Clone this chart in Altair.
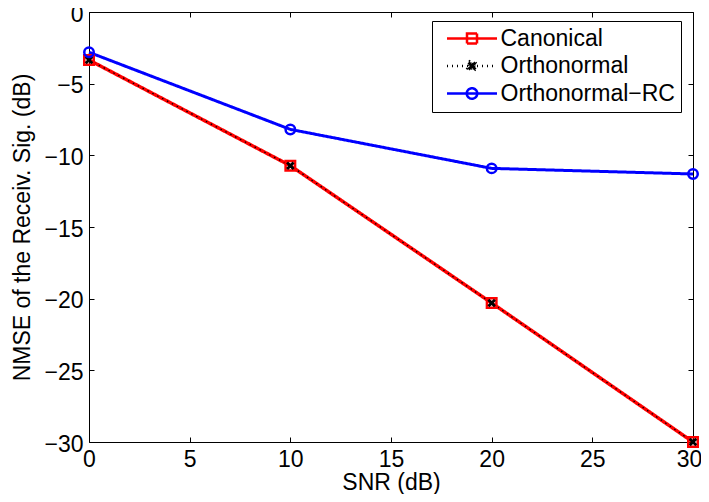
import altair as alt
import pandas as pd

# ---- data ----
snr = [0, 10, 20, 30]
canonical = [-3.35, -10.72, -20.3, -30.0]
orthonormal = [-3.35, -10.72, -20.3, -30.0]
orthonormal_rc = [-2.81, -8.19, -10.91, -11.3]
series_names = ["Canonical", "Orthonormal", "Orthonormal\u2212RC"]
x_ticks = [0, 5, 10, 15, 20, 25, 30]
y_ticks = [0, -5, -10, -15, -20, -25, -30]

rows = []
for name, vals in zip(series_names, [canonical, orthonormal, orthonormal_rc]):
    for s, v in zip(snr, vals):
        rows.append({"snr": s, "nmse": v, "series": name})
df = pd.DataFrame(rows)

# ---- styles ----
FONT = "Liberation Sans"
FS = 23
colors = ["#ff0000", "#000000", "#0000ff"]
line_widths = [3.5, 1.3, 3.0]
dashes = [[1, 0], [1.5, 4], [1, 0]]
X_PATH = ("M0,-0.42L0.48,-0.9L0.9,-0.48L0.42,0L0.9,0.48L0.48,0.9L0,0.42"
          "L-0.48,0.9L-0.9,0.48L-0.42,0L-0.9,-0.48L-0.48,-0.9Z")
point_shapes = ["square", X_PATH, "circle"]
point_filled = [False, True, False]
legend_shapes = [
    "M-5,0H5M-1,-1H1V1H-1Z",
    "M-5,0H5M" + X_PATH[1:],
    "M-5,0H5M-1.05,0A1.05,1.05 0 1,0 1.05,0A1.05,1.05 0 1,0 -1.05,0Z",
]
legend_fills = ["transparent", "#000000", "transparent"]
legend_dashes = [[1, 0], [1, 4], [1, 0]]

xs = alt.Scale(domain=[0, 30], nice=False, zero=False)
ys = alt.Scale(domain=[-30, 0], nice=False, zero=False)

common_axis = dict(grid=False, domain=False, tickSize=5, offset=-5,
                   labelFlush=False, labelOverlap=False)
ax_bottom = alt.Axis(orient="bottom", values=x_ticks, labelPadding=6,
                     labelOffset={"condition": {"test": "datum.value == 30", "value": -4}, "value": 0},
                     title="SNR (dB)", titlePadding=0, format="d", **common_axis)
ax_top = alt.Axis(orient="top", values=x_ticks, labels=False, title=None, **common_axis)
ax_left = alt.Axis(orient="left", values=y_ticks, labelPadding=6, labelOffset=2,
                   title="NMSE of the Receiv. Sig. (dB)", titlePadding=9,
                   format="d", **common_axis)
ax_right = alt.Axis(orient="right", values=y_ticks, labels=False, title=None, **common_axis)

base = alt.Chart(df)
layers = []
for i, name in enumerate(series_names):
    if i == 0:
        xa, ya = ax_bottom, ax_left
    elif i == 1:
        xa, ya = ax_top, ax_right
    else:
        xa, ya = None, None
    layers.append(
        base.transform_filter(alt.datum.series == name)
        .mark_line(color=colors[i], strokeWidth=line_widths[i],
                   strokeDash=dashes[i], opacity=1)
        .encode(x=alt.X("snr:Q", scale=xs, axis=xa),
                y=alt.Y("nmse:Q", scale=ys, axis=ya))
    )
for i, name in enumerate(series_names):
    layers.append(
        base.transform_filter(alt.datum.series == name)
        .mark_point(shape=point_shapes[i], filled=point_filled[i],
                    color=colors[i], size=90, strokeWidth=2.5, opacity=1)
        .encode(x=alt.X("snr:Q", scale=xs, axis=None),
                y=alt.Y("nmse:Q", scale=ys, axis=None))
    )

leg = alt.Legend(orient="none", legendX=343, legendY=9, title=None,
                 padding=6, strokeColor="black", fillColor="white",
                 symbolSize=100, symbolStrokeWidth=2.5, symbolOffset=22.5,
                 labelOffset=17, rowPadding=3.5, labelFont=FONT,
                 labelFontSize=FS, labelColor="black", labelLimit=400)
dom = series_names
layers.append(
    base.transform_filter("false")
    .mark_point(size=100, strokeWidth=2.5, opacity=1, filled=False)
    .encode(
        x=alt.X("snr:Q", scale=xs, axis=None),
        y=alt.Y("nmse:Q", scale=ys, axis=None),
        shape=alt.Shape("series:N", scale=alt.Scale(domain=dom, range=legend_shapes), legend=leg, sort=dom),
        stroke=alt.Stroke("series:N", scale=alt.Scale(domain=dom, range=colors), legend=leg, sort=dom),
        fill=alt.Fill("series:N", scale=alt.Scale(domain=dom, range=legend_fills), legend=leg, sort=dom),
        strokeDash=alt.StrokeDash("series:N", scale=alt.Scale(domain=dom, range=legend_dashes), legend=leg, sort=dom),
    )
)

chart = (
    alt.layer(*layers)
    .resolve_axis(x="independent", y="independent")
    .properties(width=604, height=430,
                autosize=alt.AutoSizeParams(type="none"),
                padding={"left": 81, "top": 4, "right": 8, "bottom": 52},
                background="white")
    .configure_axis(labelFont=FONT, labelFontSize=FS, titleFont=FONT,
                    titleFontSize=FS, titleFontWeight="normal",
                    labelColor="black", titleColor="black",
                    tickColor="black", tickWidth=1)
    .configure_view(stroke="black", strokeWidth=1)
)

chart.save("out.html", embed_options={"renderer": "svg", "actions": False})
